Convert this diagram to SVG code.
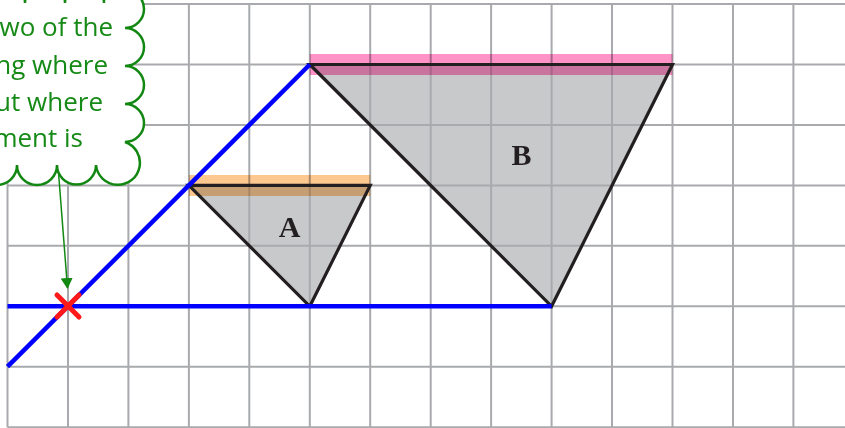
<svg xmlns="http://www.w3.org/2000/svg" width="845" height="428" viewBox="0 0 845 428">
<style>
.grid{stroke:#a9aaad;stroke-width:2;fill:none}
.fill{fill:#c8c9cb;stroke:none}
.edge{fill:none;stroke:#231f20;stroke-width:3.2;stroke-linejoin:miter}
.band{mix-blend-mode:multiply}
.blue{stroke:#0000ff;stroke-width:4.5;fill:none}
.lbl{font-family:"Liberation Serif",serif;font-weight:bold;font-size:30px;fill:#231f20;text-anchor:middle}
.note{font-family:"Open Sans","Noto Sans",sans-serif;font-size:26px;fill:#168a16;text-anchor:end}
</style>
<defs>
<marker id="ah" markerWidth="12" markerHeight="12" refX="10" refY="6" orient="auto" markerUnits="userSpaceOnUse">
<path d="M0,0 L11,6 L0,12 Z" fill="#128812"/>
</marker>
</defs>
<rect width="845" height="428" fill="#ffffff"/>
<g id="fills">
<polygon class="fill" points="188.9,185.4 370.2,185.4 309.8,306.3"/>
<polygon class="fill" points="309.8,64.5 672.5,64.5 551.6,306.3"/>
</g>
<g id="grid" class="grid">
<path d="M7.5,4V427.2 M68,4V427.2 M128.4,4V427.2 M188.9,4V427.2 M249.3,4V427.2 M309.8,4V427.2 M370.2,4V427.2 M430.7,4V427.2 M491.1,4V427.2 M551.6,4V427.2 M612,4V427.2 M672.5,4V427.2 M733,4V427.2 M793.4,4V427.2"/>
<path d="M7.5,4H845 M7.5,64.5H845 M7.5,125H845 M7.5,185.4H845 M7.5,245.8H845 M7.5,306.3H845 M7.5,366.7H845 M7.5,427.2H845"/>
</g>
<g id="bands">
<rect class="band" x="188.9" y="175" width="181.3" height="21" fill="#fdc890"/>
<rect class="band" x="309.8" y="54" width="362.7" height="21" fill="#ff93c8"/>
</g>
<g id="triangleA">
<polygon class="edge" points="188.9,185.4 370.2,185.4 309.8,306.3"/>
<text class="lbl" x="289.5" y="237">A</text>
</g>
<g id="triangleB">
<polygon class="edge" points="309.8,64.5 672.5,64.5 551.6,306.3"/>
<text class="lbl" x="521.5" y="165">B</text>
</g>
<g id="connectors">
<line class="blue" x1="7.5" y1="366.7" x2="309.8" y2="64.5"/>
<line class="blue" x1="7.5" y1="306.3" x2="551.6" y2="306.3"/>
<line x1="58" y1="166" x2="67.5" y2="288" stroke="#128812" stroke-width="1.5" marker-end="url(#ah)"/>
</g>
<g id="cross" stroke="#ff1a1a" stroke-width="5" stroke-linecap="round">
<line x1="57" y1="295" x2="79" y2="317"/>
<line x1="79" y1="295" x2="57" y2="317"/>
</g>
<g id="callout">
<path d="M-40,40 L-15,3 A20,20 0 0 1 25,3 A20,20 0 0 1 65,3 A19.5,19.5 0 0 1 104,3 A14,14 0 0 1 125,-10 A19,19 0 0 1 125,28 A19,19 0 0 1 125,66 A19,19 0 0 1 125,104 A19,19 0 0 1 125,142 A22,22 0 1 1 96,165 A19.5,19.5 0 0 1 57,165 A20,20 0 0 1 17,165 A20,20 0 0 1 -23,165 Z" fill="#ffffff" stroke="#128812" stroke-width="2.5"/>
<text class="note" x="113" y="36">wo of the</text>
<text class="note" x="108" y="73.5">ng where</text>
<text class="note" x="103" y="110.5">ut where</text>
<text class="note" x="83" y="147">ment is</text>
</g>
</svg>
